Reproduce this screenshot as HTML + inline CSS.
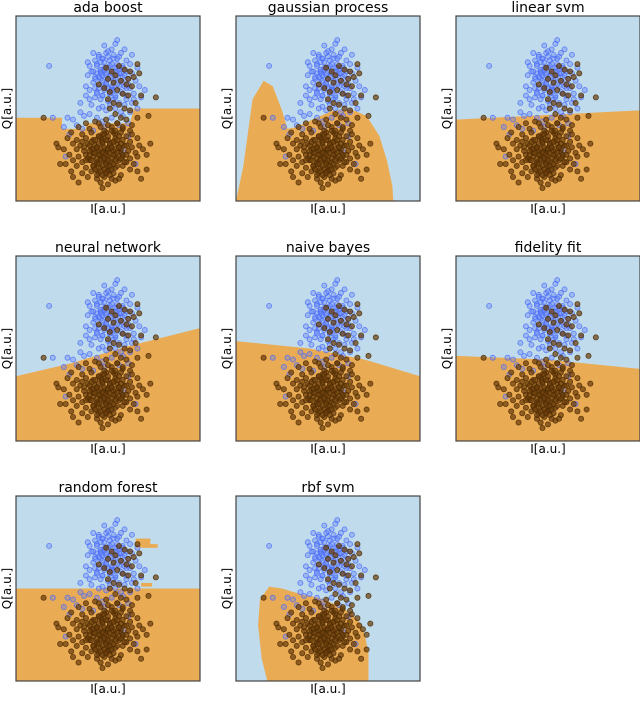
<!DOCTYPE html>
<html><head><meta charset="utf-8">
<style>
html,body{margin:0;padding:0;background:#fff;}
body{width:640px;height:696px;overflow:hidden;}
svg text{font-family:"DejaVu Sans","Liberation Sans",sans-serif;fill:#000;}
</style></head>
<body>
<svg id="fig" width="640" height="696" viewBox="0 0 640 696" xmlns="http://www.w3.org/2000/svg"></svg>
<script>
const panelTitles = ["ada boost","gaussian process","linear svm","neural network","naive bayes","fidelity fit","random forest","rbf svm"];
const blueX = [.18,.54,.49,.52,.57,.45,.47,.43,.60,.62,.40,.44,.48,.51,.55,.58,.41,.46,.50,.53,.56,.60,.63,.39,.43,.47,.51,.54,.58,.61,.65,.42,.45,.49,.52,.55,.59,.62,.38,.40,.44,.48,.51,.57,.60,.64,.43,.46,.50,.53,.56,.59,.41,.45,.49,.54,.63,.35,.37,.40,.44,.31,.28,.20,.26,.33,.47,.58,.62,.66,.52,.48,.42,.36,.29,.56,.61,.46,.49,.52,.55,.44,.57,.50,.47,.53,.43,.61,.38,.35,.67,.70,.68,.64,.66,.42,.48,.55,.59,.63,.39,.46,.58,.54,.60,.47,.51,.40,.57,.58,.65,.27,.61,
 .45,.47,.50,.53,.56,.44,.48,.51,.54,.58,.46,.49,.52,.55,.59,.43,.47,.50,.53,.57,.45,.48,.52,.56,.60,.44,.47,.51,.54,.58,.46,.50,.53,.42,.56,.49,.52,.45,.55,.48];
const blueY = [.73,.85,.80,.82,.80,.79,.77,.76,.76,.74,.73,.74,.75,.76,.77,.73,.70,.71,.72,.70,.71,.70,.69,.68,.67,.68,.67,.66,.67,.66,.65,.64,.63,.64,.62,.63,.62,.61,.62,.60,.59,.60,.58,.59,.57,.58,.56,.55,.54,.55,.53,.52,.52,.50,.49,.50,.53,.48,.46,.47,.45,.44,.45,.45,.40,.41,.43,.46,.48,.50,.45,.40,.38,.39,.36,.41,.42,.70,.69,.74,.72,.69,.69,.61,.57,.60,.61,.63,.57,.53,.62,.60,.56,.55,.72,.80,.84,.87,.82,.79,.75,.66,.64,.56,.55,.51,.52,.55,.48,.27,.20,.24,.35,
 .78,.77,.78,.77,.78,.73,.72,.73,.72,.72,.69,.68,.69,.68,.68,.66,.65,.66,.65,.65,.61,.62,.61,.62,.61,.58,.57,.58,.57,.58,.75,.81,.79,.70,.69,.63,.60,.67,.74,.71];
const brownX = [.49,.52,.56,.59,.62,.64,.66,.67,.50,.53,.57,.60,.63,.48,.51,.55,.58,.61,.50,.53,.56,.59,.62,.65,.68,.51,.54,.57,.60,.55,.52,.58,.49,.45,.63,.66,.72,.76,.47,.53,.60,.45,.54,.61,
.38,.43,.50,.55,.34,.40,.46,.52,.58,.62,.30,.36,.41,.45,.49,.54,.57,.63,.28,.33,.38,.42,.46,.50,.54,.58,.62,.66,.31,.35,.39,.43,.47,.51,.55,.59,.63,.67,.26,.33,.37,.41,.45,.49,.53,.57,.61,.65,.69,.29,.34,.38,.42,.46,.50,.54,.58,.62,.66,.71,.31,.36,.40,.44,.48,.52,.56,.60,.64,.33,.38,.42,.46,.50,.54,.58,.62,.30,.36,.41,.45,.49,.53,.57,.66,.39,.44,.48,.52,.56,.46,.50,.54,.47,.22,.23,.27,.31,.71,.73,.15,.34,.68,.24,.44,.48,.52,.46,.50,.42,.55,.40,.47,.53,.44,.51,.39,.57,.49,.43,.60,.36,.56,.48,
.41,.43,.45,.47,.49,.51,.53,.55,.57,.42,.44,.46,.48,.50,.52,.54,.56,.40,.43,.45,.47,.49,.51,.53,.55,.58,.41,.44,.46,.48,.50,.52,.54,.57,.42,.45,.47,.49,.51,.53,.55,.43,.46,.48,.50,.52,.44,.47,.49,.51,.45,.48,.50,.54,.40,.56,.38,.59,.37,.60];
const brownY = [.72,.70,.73,.71,.70,.67,.74,.69,.66,.64,.65,.63,.62,.61,.59,.60,.58,.57,.55,.53,.52,.50,.49,.53,.57,.50,.47,.45,.44,.42,.40,.39,.44,.42,.41,.45,.46,.56,.36,.37,.35,.63,.68,.66,
.42,.43,.41,.42,.40,.39,.40,.38,.40,.38,.37,.36,.37,.35,.37,.36,.37,.36,.34,.33,.34,.33,.34,.33,.34,.33,.32,.34,.31,.30,.31,.30,.31,.30,.31,.30,.29,.30,.28,.28,.27,.28,.27,.28,.27,.28,.27,.26,.28,.25,.24,.25,.24,.25,.24,.25,.24,.23,.24,.25,.22,.21,.22,.21,.22,.21,.22,.21,.20,.19,.18,.19,.18,.19,.18,.19,.17,.16,.15,.16,.15,.16,.15,.14,.16,.13,.12,.13,.12,.12,.10,.09,.11,.07,.31,.29,.20,.13,.17,.31,.45,.10,.12,.20,.29,.26,.29,.23,.27,.26,.23,.30,.33,.32,.20,.17,.23,.26,.21,.17,.25,.32,.35,.38,
.32,.33,.31,.32,.33,.31,.32,.33,.31,.28,.29,.28,.29,.28,.29,.28,.29,.25,.26,.25,.26,.25,.26,.25,.26,.25,.22,.23,.22,.23,.22,.23,.22,.23,.19,.20,.19,.20,.19,.20,.19,.17,.16,.17,.16,.17,.14,.14,.15,.14,.35,.36,.35,.38,.27,.29,.22,.21,.29,.30];
// decision-boundary polygons (orange region), data coords 0..1
const boundaries = [
 [[0,.45],[.25,.45],[.25,.39],[.38,.39],[.38,.42],[.62,.42],[.64,.50],[1,.50],[1,0],[0,0]],
 [[0,0],[.04,.19],[.09,.55],[.15,.65],[.20,.62],[.25,.49],[.28,.39],[.33,.40],[.46,.46],[.53,.49],[.64,.49],[.71,.46],[.78,.35],[.82,.22],[.85,.08],[.855,0]],
 [[0,.44],[1,.49],[1,0],[0,0]],
 [[0,.35],[.3,.42],[.6,.51],[1,.61],[1,0],[0,0]],
 [[0,.54],[.4,.50],[.7,.44],[1,.35],[1,0],[0,0]],
 [[0,.46],[.5,.44],[1,.39],[1,0],[0,0]],
 [[0,.50],[1,.50],[1,0],[0,0]],
 [[.17,0],[.14,.12],[.12,.30],[.13,.44],[.18,.51],[.25,.50],[.35,.47],[.45,.45],[.55,.41],[.62,.37],[.67,.32],[.70,.25],[.72,.15],[.72,0]]
];
const forestIslands = [[.65,.72,.08,.05],[.72,.72,.05,.02],[.68,.51,.06,.02],[.25,.45,.05,.03]];
const colX=[16,236,456], rowY=[16,256,496], W=184, H=185;
const NS="http://www.w3.org/2000/svg";
const svg=document.getElementById('fig');
function mk(t,a,p){const e=document.createElementNS(NS,t);for(const k in a)e.setAttribute(k,a[k]);(p||svg).appendChild(e);return e;}
panelTitles.forEach((title,i)=>{
 const x0=colX[i%3], y0=rowY[Math.floor(i/3)];
 const sx=v=>x0+v*W, sy=v=>y0+(1-v)*H;
 const g=mk('g',{});
 
 
 const cp=mk('clipPath',{id:'c'+i},g); mk('rect',{x:x0,y:y0,width:W,height:H},cp);
 const bg=mk('rect',{x:x0,y:y0,width:W,height:H,fill:'#c0dcec'},g);
 
 
 const poly=mk('polygon',{points:boundaries[i].map(p=>sx(p[0])+','+sy(p[1])).join(' '),fill:'#eaab55','clip-path':'url(#c'+i+')'},g);
 
 
 if(i===6) forestIslands.forEach(r=>{const e=mk('rect',{x:sx(r[0]),y:sy(r[1]+r[3]),width:r[2]*W,height:r[3]*H,fill:'#eaab55'},g);
  
  });
 blueX.forEach((v,k)=>{const c=mk('circle',{cx:sx(v),cy:sy(blueY[k]),r:2.5,fill:'#5a78ff','fill-opacity':.35,stroke:'#4a6af5','stroke-opacity':.75,'stroke-width':.9},g);
  
  });
 brownX.forEach((v,k)=>{const c=mk('circle',{cx:sx(v),cy:sy(brownY[k]),r:2.6,fill:'#6a3c08','fill-opacity':.7,stroke:'#4a2a05','stroke-opacity':.8,'stroke-width':.8},g);
  
  });
 const fr=mk('rect',{x:x0,y:y0,width:W,height:H,fill:'none',stroke:'#444','stroke-width':1.2},g);
 
 
 const t=mk('text',{x:x0+W/2,y:y0-4,'text-anchor':'middle','font-size':14},g); t.textContent=title;
 
 
 const xl=mk('text',{x:x0+W/2,y:y0+H+12,'text-anchor':'middle','font-size':12},g); xl.textContent='I[a.u.]';
 
 
 const yl=mk('text',{x:0,y:0,'text-anchor':'middle','font-size':12,transform:`translate(${x0-5},${y0+H/2}) rotate(-90)`},g); yl.textContent='Q[a.u.]';
 
 
});
</script>
</body></html>
